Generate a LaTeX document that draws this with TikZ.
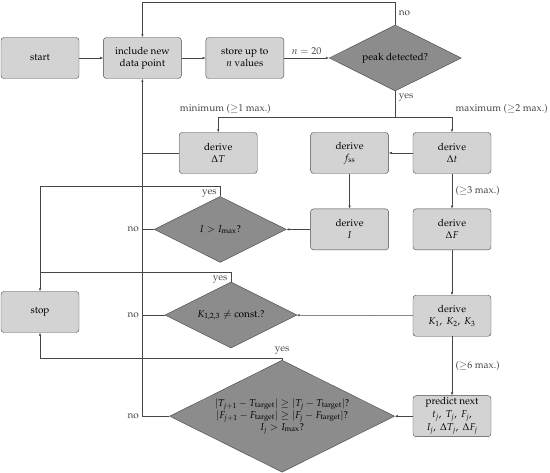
\documentclass[tikz,border=0pt]{standalone}
\usepackage[T1]{fontenc}
\usepackage{mathpazo}
\usepackage{amsmath}
\usetikzlibrary{arrows.meta,positioning,shapes.geometric}
\definecolor{boxgray}{RGB}{211,211,211}
\definecolor{decgray}{RGB}{140,140,140}
\definecolor{linegray}{RGB}{70,70,70}

\begin{document}
\begin{tikzpicture}[
  x=1pt, y=-1pt,
  font=\fontsize{10pt}{12pt}\selectfont,
  box/.style={draw=linegray, fill=boxgray, rounded corners=3pt, align=center, minimum width=78pt, minimum height=41pt, inner sep=2pt},
  dec/.style={draw=linegray, fill=decgray, diamond, aspect=2, align=center, minimum width=132pt, minimum height=66pt, inner sep=0pt},
  arr/.style={-{Latex[length=3pt,width=2.4pt]}, linegray, line width=0.5pt},
  line/.style={linegray, line width=0.5pt}
]
  \useasboundingbox (0,0) rectangle (550,473);
  \node[box] (start) at (40,58) {start};
  \node[box, right=24pt of start] (incl) {include new\\data point};
  \node[box, right=24pt of incl] (store) {store up to\\$n$ values};
  \node[dec, right=45pt of store] (peak) {peak detected?};
  \node[box] (dt) at (452,153) {derive\\$\Delta t$};
  \node[box, left=24pt of dt] (fss) {derive\\$f_{\mathrm{ss}}$};
  \node[box, left=53pt of fss] (dT) {derive\\$\Delta T$};
  \node[box, below=35pt of fss] (dI) {derive\\$I$};
  \node[box, below=35pt of dt] (dF) {derive\\$\Delta F$};
  \node[box, below=45pt of dF] (dK) {derive\\$K_1,\ K_2,\ K_3$};
  \node[box, below=59pt of dK, font=\fontsize{10pt}{13pt}\selectfont, inner sep=1pt] (pred) {predict next\\$t_j,\ T_j,\ F_j,$\\$I_j,\ \Delta T_j,\ \Delta F_j$};
  \node[dec, left=24pt of dI] (imax) {$I > I_{\max}$?};
  \node[dec] (kconst) at (231,315) {$K_{1,2,3} \neq \text{const.}$?};
  \node[dec, minimum width=225pt, minimum height=112pt, left=18pt of pred] (conv) {$|T_{j+1} - T_{\mathrm{target}}| \geq |T_j - T_{\mathrm{target}}|$?\\$|F_{j+1} - F_{\mathrm{target}}| \geq |F_j - F_{\mathrm{target}}|$?\\$I_j > I_{\max}$?};
  \node[box] (stop) at (40,312) {stop};

  \draw[arr] (start) -- (incl);
  \draw[arr] (incl) -- (store);
  \draw[arr] (store) -- node[above]{$n = 20$} (peak);
  \draw[arr] (peak.north) -- node[right]{no} (peak.north |- 0,2) -| (incl.north);
  \coordinate (split) at (peak.south |- 0,117);
  \draw[line] (peak.south) -- node[right, pos=0.25]{yes} (split);
  \draw[arr] (split) -| node[above, pos=0.48]{minimum ($\geq$1 max.)} (dT.north);
  \draw[arr] (split) -| node[above right, pos=0.5]{maximum ($\geq$2 max.)} (dt.north);
  \draw[arr] (dt) -- (fss);
  \draw[arr] (fss) -- (dI);
  \draw[arr] (dI) -- (imax);
  \draw[arr] (dt) -- node[right]{($\geq$3 max.)} (dF);
  \draw[arr] (dF) -- (dK);
  \draw[arr] (dK) -- (kconst);
  \draw[arr] (dK) -- node[right]{($\geq$6 max.)} (pred);
  \draw[arr] (pred) -- (conv);
  \draw[arr] (conv.west) -- (conv.west -| incl.south) node[left]{no} -- (incl.south);
  \draw[line] (imax.west) -- (imax.west -| incl.south) node[left]{no};
  \draw[line] (kconst.west) -- (kconst.west -| incl.south) node[left]{no};
  \draw[line] (dT.west) -- (dT.west -| incl.south);
  \draw[arr] (imax.north) -- (imax.north |- 0,186) node[below left]{yes} -| (stop.north);
  \draw[line] (kconst.north) -- (kconst.north |- 0,272) node[below left]{yes} -- (stop.north |- 0,272);
  \draw[arr] (conv.north) -- (conv.north |- 0,358) node[above]{yes} -| (stop.south);
\end{tikzpicture}
\end{document}
